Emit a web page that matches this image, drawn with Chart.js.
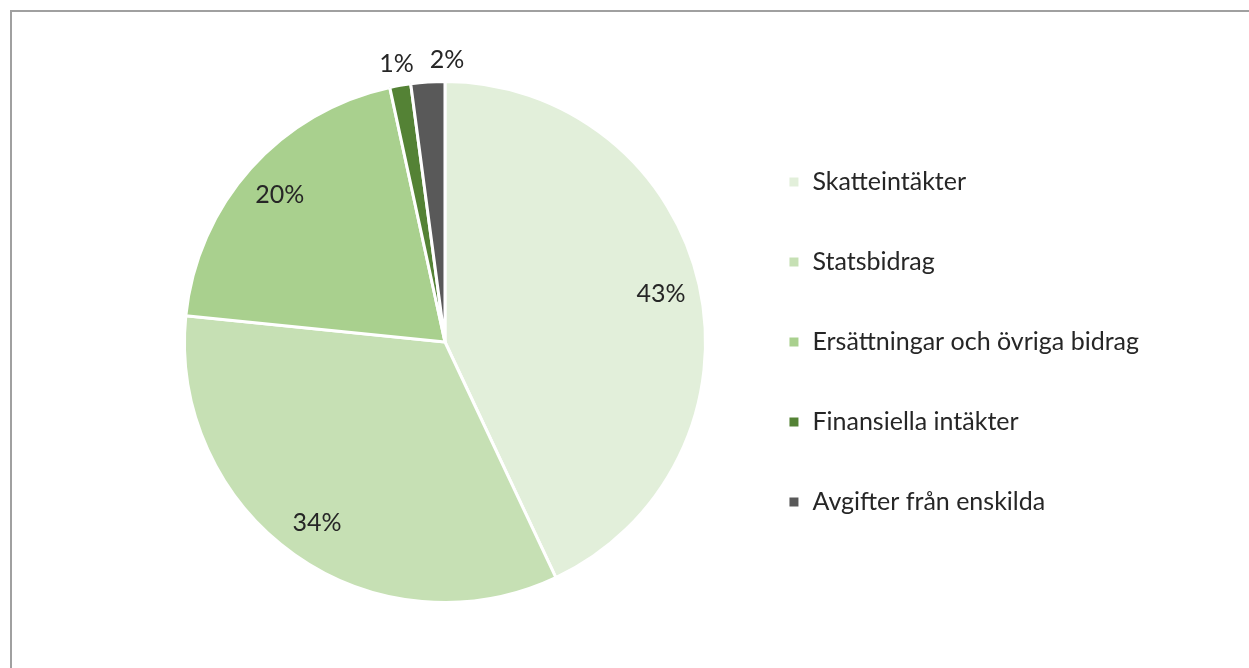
<!DOCTYPE html>
<html lang="sv">
<head>
<meta charset="utf-8">
<title>Intäkter</title>
<script src="https://cdn.jsdelivr.net/npm/chart.js@4/dist/chart.umd.min.js"></script>
<style>
  html, body { margin: 0; padding: 0; background: #fff; overflow: hidden; }
  #frame {
    position: absolute; left: 10px; top: 10px; width: 1300px; height: 700px;
    border-left: 2px solid #a0a0a0; border-top: 2px solid #a0a0a0;
  }
  #wrap { position: absolute; left: 0; top: 0; width: 1249px; height: 668px; }
</style>
</head>
<body>
<div id="frame"></div>
<div id="wrap"><canvas id="pie"></canvas></div>
<script>
/*jslint browser:true, indent:2*/
/*globals Chart*/

var categories = [
  'Skatteintäkter',
  'Statsbidrag',
  'Ersättningar och övriga bidrag',
  'Finansiella intäkter',
  'Avgifter från enskilda'
];
var shares = [43.0, 33.6, 20.0, 1.3, 2.1];
var sliceColors = ['#e2efda', '#c6e0b4', '#a9d08e', '#548235', '#595959'];

(function () {
  'use strict';

  var fontFamily, textColor, pieLabels;

  fontFamily = 'Lato, "Open Sans", sans-serif';
  textColor = '#262626';

  // percentage labels: inside for big slices, outside for tiny ones
  pieLabels = {
    id: 'pieLabels',
    afterDatasetsDraw: function (chart) {
      var ctx, meta, values, total, lastRight;
      ctx = chart.ctx;
      meta = chart.getDatasetMeta(0);
      values = chart.data.datasets[0].data;
      total = values.reduce(function (a, b) { return a + b; }, 0);
      lastRight = null;

      ctx.save();
      ctx.font = '25px ' + fontFamily;
      ctx.fillStyle = textColor;
      ctx.textAlign = 'center';
      ctx.textBaseline = 'middle';

      meta.data.forEach(function (arc, i) {
        var p, mid, pct, r, x, y, text, w;
        p = arc.getProps(['x', 'y', 'startAngle', 'endAngle', 'outerRadius'], true);
        mid = (p.startAngle + p.endAngle) / 2;
        pct = values[i] / total * 100;
        text = Math.round(pct) + '%';
        r = pct >= 5 ? p.outerRadius * 0.85 : p.outerRadius + 22;
        x = p.x + Math.cos(mid) * r;
        y = p.y + Math.sin(mid) * r;
        if (pct < 5) {
          // push the next small label right so they don't overlap
          w = ctx.measureText(text).width;
          if (lastRight !== null && x - w / 2 < lastRight + 16) {
            x = lastRight + 16 + w / 2;
          }
          lastRight = x + w / 2;
        }
        ctx.fillText(text, x, y);
      });
      ctx.restore();
    }
  };

  Chart.defaults.font.family = fontFamily;
  Chart.defaults.color = textColor;

  new Chart(document.getElementById('pie'), {
    type: 'pie',
    data: {
      labels: categories,
      datasets: [{
        data: shares,
        backgroundColor: sliceColors,
        borderColor: '#ffffff',
        borderWidth: 3
      }]
    },
    options: {
      responsive: true,
      maintainAspectRatio: false,
      animation: false,
      layout: {
        padding: { left: 157, right: 100, top: 80, bottom: 64 }
      },
      plugins: {
        legend: {
          position: 'right',
          align: 'center',
          labels: {
            boxWidth: 12,
            boxHeight: 12,
            padding: 55,
            color: textColor,
            font: { size: 25 }
          }
        },
        tooltip: { enabled: false }
      }
    },
    plugins: [pieLabels]
  });
}());
</script>
</body>
</html>
